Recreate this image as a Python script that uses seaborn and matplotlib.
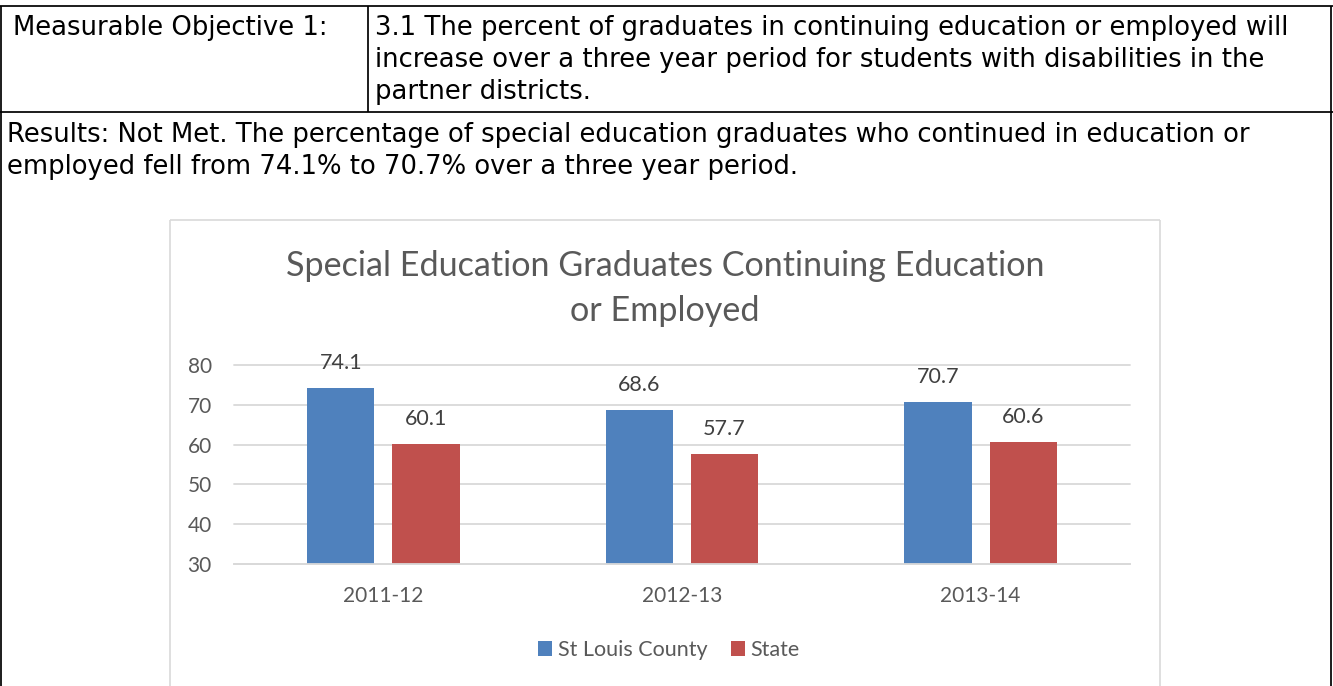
import numpy as np
import pandas as pd
import matplotlib
matplotlib.use('Agg')
import matplotlib.pyplot as plt
import seaborn as sns
from matplotlib.lines import Line2D

# ---------------- data ----------------
years = ['2011-12', '2012-13', '2013-14']
st_louis = [74.1, 68.6, 70.7]
state = [60.1, 57.7, 60.6]
series_names = ['St Louis County', 'State']
yticks = [30, 40, 50, 60, 70, 80]
title_lines = ['Special Education Graduates Continuing Education', 'or Employed']
objective_label = 'Measurable Objective 1:'
objective_lines = ['3.1 The percent of graduates in continuing education or employed will',
                   'increase over a three year period for students with disabilities in the',
                   'partner districts.']
results_lines = ['Results: Not Met. The percentage of special education graduates who continued in education or',
                 'employed fell from 74.1% to 70.7% over a three year period.']

# ---------------- setup ----------------
W, H, DPI = 1333, 686, 100
sns.set_theme(style='white')
plt.rcParams['font.family'] = ['Lato', 'DejaVu Sans']

fig = plt.figure(figsize=(W / DPI, H / DPI), dpi=DPI)
fig.patch.set_facecolor('white')


def fx(px):
    return px / W


def fy(py):
    return 1 - py / H


def fline(xs, ys, **kw):
    fig.add_artist(Line2D([fx(x) for x in xs], [fy(y) for y in ys],
                          transform=fig.transFigure, **kw))


# ---------------- table frame ----------------
tk = dict(color='black', lw=1.25, solid_capstyle='butt')
fline([0, 1333], [6, 6], **tk)
fline([0, 1333], [112, 112], **tk)
fline([1.2, 1.2], [6, 690], **tk)
fline([1331, 1331], [6, 690], **tk)
fline([368, 368], [6, 112], **tk)

# fit table font to measured line width
renderer = fig.canvas.get_renderer()
probe = fig.text(0, 0, results_lines[0], fontsize=18, family='DejaVu Sans')
wprobe = probe.get_window_extent(renderer).width
probe.remove()
tsize = 18 * 1246 / wprobe

tt = dict(fontsize=tsize, family='DejaVu Sans', color='black', va='baseline', ha='left')
fig.text(fx(13), fy(35), objective_label, **tt)
for i, line in enumerate(objective_lines):
    fig.text(fx(375), fy(35 + 32 * i), line, **tt)
for i, line in enumerate(results_lines):
    fig.text(fx(7), fy(142 + 32 * i), line, **tt)

# ---------------- chart box ----------------
bk = dict(color='#d9d9d9', lw=1.2, solid_capstyle='butt')
fline([170, 1160], [220, 220], **bk)
fline([170, 170], [220, 690], **bk)
fline([1160, 1160], [220, 690], **bk)

# title
for i, line in enumerate(title_lines):
    fig.text(fx(665), fy(276 + 45 * i), line, fontsize=24.6, color='#595959',
             ha='center', va='baseline')

# ---------------- bars ----------------
ax = fig.add_axes([fx(234), fy(564), fx(1130) - fx(234), fy(365) - fy(564)])
df = pd.DataFrame({
    'year': years * 2,
    'series': [series_names[0]] * len(years) + [series_names[1]] * len(years),
    'value': st_louis + state,
})
sns.barplot(data=df, x='year', y='value', hue='series',
            palette=['#4F81BD', '#C0504D'], width=0.57, gap=0.21,
            saturation=1, errorbar=None, linewidth=0, ax=ax)

ax.set_xlim(-0.5, 2.5)
ax.set_ylim(30, 80)
ax.set_yticks(yticks)
ax.set_xlabel('')
ax.set_ylabel('')
ax.set_axisbelow(True)
ax.set_facecolor('none')
ax.yaxis.grid(True, color='#d9d9d9', lw=1.3)
ax.xaxis.grid(False)
for t in ax.yaxis.get_major_ticks():
    t.gridline.set_clip_on(False)
for s in ['top', 'left', 'right']:
    ax.spines[s].set_visible(False)
ax.spines['bottom'].set_color('#d9d9d9')
ax.spines['bottom'].set_linewidth(1.3)
ax.tick_params(axis='both', length=0, labelsize=15, labelcolor='#595959')
ax.tick_params(axis='y', pad=16)
ax.tick_params(axis='x', pad=15.5)

for cont in ax.containers:
    labels = ax.bar_label(cont, fmt='%.1f', padding=18, fontsize=15.5, color='#404040')
    for lb in labels:
        lb.set_va('center')

# legend
leg = ax.get_legend()
handles = leg.legend_handles
labels_txt = [t.get_text() for t in leg.texts]
leg.remove()
fig.legend(handles, labels_txt, loc='center', bbox_to_anchor=(fx(669), fy(650)),
           ncol=2, frameon=False, fontsize=15.5, handlelength=0.65, handleheight=0.65,
           handletextpad=0.25, columnspacing=1.1, labelcolor='#595959',
           borderpad=0, borderaxespad=0)

fig.savefig('out.png', dpi=DPI, facecolor='white')
